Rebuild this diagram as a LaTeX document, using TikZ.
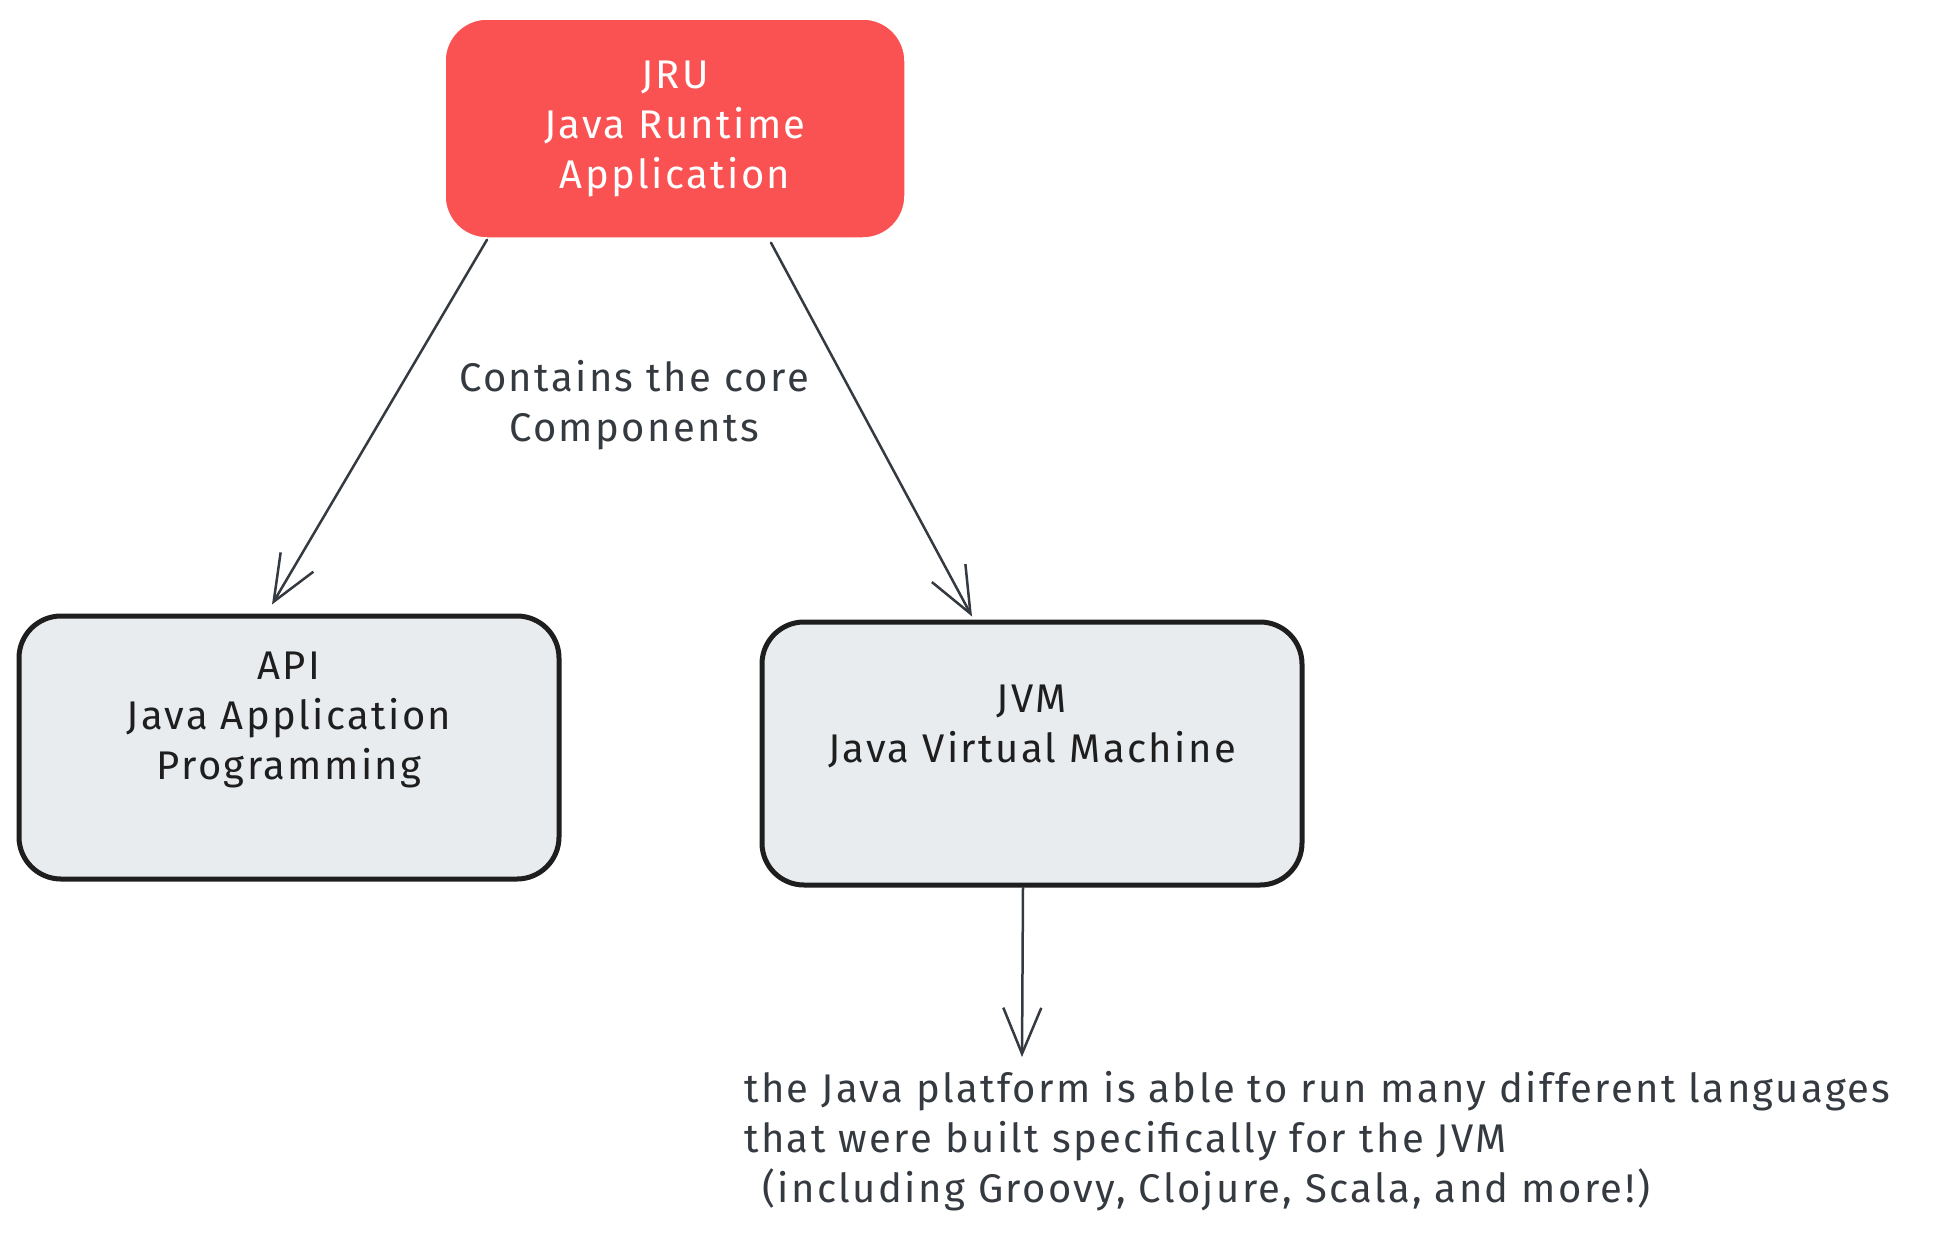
\documentclass[tikz,border=0pt]{standalone}
\usepackage{fontspec}
\setmainfont[LetterSpace=6]{Fira Sans}
\usetikzlibrary{arrows.meta}
\definecolor{exred}{HTML}{FA5252}
\definecolor{exgray}{HTML}{E9ECEF}
\definecolor{exstroke}{HTML}{1E1E1E}
\definecolor{exline}{HTML}{343A40}
\tikzset{
  redbox/.style={draw=white, line width=1.5pt, fill=exred, rounded corners=42pt,
    minimum width=460pt, minimum height=219pt, inner sep=0pt},
  graybox/.style={draw=exstroke, line width=5pt, fill=exgray, rounded corners=42pt,
    minimum width=540pt, minimum height=263pt, inner sep=0pt},
  boxtext/.style={align=center, font=\fontsize{40}{50}\selectfont, inner sep=0pt},
  labeltext/.style={text=exline, font=\fontsize{40}{50}\selectfont, inner sep=0pt},
  conn/.style={draw=exline, line width=2.5pt, line cap=round,
    -{Straight Barb[length=46pt, width=38pt, line width=2.5pt]}}
}
\begin{document}
\begin{tikzpicture}[x=1pt, y=-1pt]
\useasboundingbox[fill=white] (0,0) rectangle (1955,1234);
% boxes
\node[redbox] (jru) at (675,128.5) {};
\node[boxtext, text=white] (jrutext) at (675,128.5) {JRU\\Java Runtime\\Application};
\node[graybox] (api) at (289,747.5) {};
\node[boxtext, text=exstroke] (apitext) at (289,720) {API\\Java Application\\Programming};
\node[graybox] (jvm) at (1032,753.5) {};
\node[boxtext, text=exstroke] (jvmtext) at (1032,726) {JVM\\Java Virtual Machine};
% labels
\node[labeltext, align=center] (core) at (634,405) {Contains the core\\Components};
\node[labeltext, align=left, anchor=west] (note) at (744,1141)
  {the Java platform is able to run many different languages\\
   that were built specifically for the JVM\\
   \hspace*{0.45em}(including Groovy, Clojure, Scala, and more!)};
\coordinate (noteend) at (1022,1057);
% connectors
\draw[conn] ([xshift=-188pt, yshift=-1pt]jru.south) -- ([xshift=-17pt, yshift=9pt]api.north);
\draw[conn] ([xshift=96pt, yshift=-4pt]jru.south) -- ([xshift=-60pt, yshift=3pt]jvm.north);
\draw[conn] ([xshift=-9pt]jvm.south) -- (noteend);
\end{tikzpicture}
\end{document}
